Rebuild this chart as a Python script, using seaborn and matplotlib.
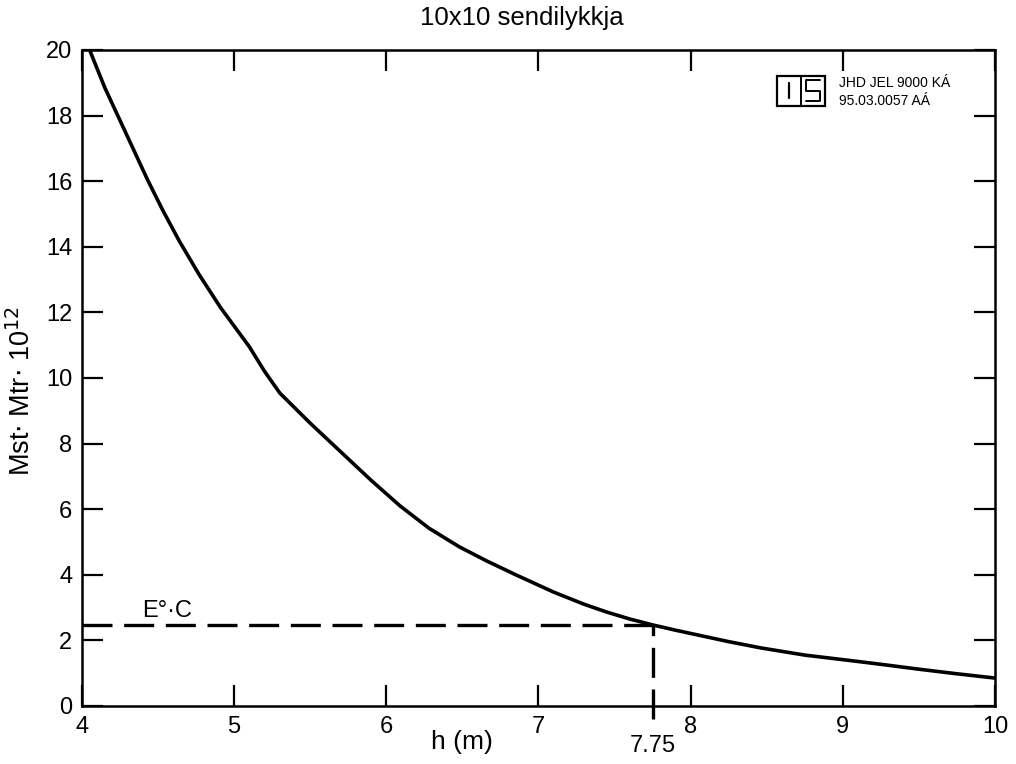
import matplotlib
matplotlib.use("Agg")
import matplotlib.pyplot as plt
from matplotlib.patches import Rectangle
import seaborn as sns

# values
h_m = [4.05, 4.15, 4.25, 4.34, 4.43, 4.53, 4.64, 4.77, 4.91, 5.10, 5.20, 5.30,
       5.50, 5.70, 5.90, 6.09, 6.28, 6.48, 6.66, 6.85, 7.10, 7.30, 7.45, 7.60,
       7.75, 7.90, 8.06, 8.25, 8.46, 8.75, 9.11, 9.30, 9.50, 9.75, 10.0]
mst_mtr = [20.0, 18.85, 17.85, 16.95, 16.05, 15.12, 14.17, 13.15, 12.15, 10.95,
           10.2, 9.54, 8.62, 7.75, 6.88, 6.1, 5.42, 4.85, 4.42, 4.0, 3.47, 3.1,
           2.86, 2.65, 2.47, 2.31, 2.15, 1.96, 1.77, 1.55, 1.35, 1.24, 1.12,
           0.98, 0.85]
e_level = 2.47
h_cut = 7.75
x_ticks = [4, 5, 6, 7, 8, 9, 10]
y_ticks = [0, 2, 4, 6, 8, 10, 12, 14, 16, 18, 20]
logo_lines = ["JHD JEL 9000 KÁ", "95.03.0057 AÁ"]

sns.set_theme(style="ticks")
plt.rcParams["font.family"] = ["Liberation Sans", "DejaVu Sans"]
plt.rcParams["text.color"] = "black"
plt.rcParams["axes.labelcolor"] = "black"
plt.rcParams["xtick.color"] = "black"
plt.rcParams["ytick.color"] = "black"

fig = plt.figure(figsize=(10.16, 7.64), dpi=100)
ax = fig.add_axes([0.0807, 0.076, 0.8986, 0.8586])

sns.lineplot(x=h_m, y=mst_mtr, color="black", linewidth=2.6, ax=ax)

ax.hlines(e_level, x_ticks[0], h_cut, colors="black", linewidth=2.4,
          linestyles=(0, (9, 3.5)))
ax.vlines(h_cut, -0.4, e_level, colors="black", linewidth=2.4,
          linestyles=(0, (9, 3.5)), clip_on=False)
ax.text(4.56, 2.55, "E°·C", fontsize=17, ha="center", va="bottom")

ax.set_xlim(4, 10)
ax.set_ylim(0, 20)
ax.set_xticks(x_ticks)
ax.set_yticks(y_ticks)
ax.tick_params(direction="in", length=15, width=1.6, labelsize=17,
               top=True, right=True, pad=7)
for s in ax.spines.values():
    s.set_linewidth(1.8)
    s.set_color("black")

fig.text(522 / 1016, 1 - 18 / 764, "10x10 sendilykkja", fontsize=18.5,
         ha="center", va="center")
ax.set_xlabel("h (m)", fontsize=19)
ax.xaxis.set_label_coords(0.416, -0.037)
ax.set_ylabel(r"Mst$\cdot$ Mtr$\cdot$ 10$^{12}$", fontsize=19.5)
ax.yaxis.set_label_coords(-0.05, 0.48)
ax.text(h_cut, -0.044, "7.75", transform=ax.get_xaxis_transform(),
        fontsize=17, ha="center", va="top")

# logo box in the top right corner
tr = ax.transAxes
ax.add_patch(Rectangle((0.761, 0.915), 0.053, 0.046, transform=tr,
                       fill=False, linewidth=1.6, edgecolor="black"))
ax.plot([0.787, 0.787], [0.915, 0.961], transform=tr, color="black", lw=1.4)
ax.plot([0.774, 0.774], [0.927, 0.95], transform=tr, color="black", lw=1.6)
ax.plot([0.793, 0.808, 0.808, 0.793, 0.793, 0.808], [0.922, 0.922, 0.938, 0.938, 0.954, 0.954],
        transform=tr, color="black", lw=1.4)
ax.text(0.829, 0.949, logo_lines[0], transform=tr, fontsize=10, va="center")
ax.text(0.829, 0.922, logo_lines[1], transform=tr, fontsize=10, va="center")

fig.savefig("out.png", dpi=100, facecolor="white")
